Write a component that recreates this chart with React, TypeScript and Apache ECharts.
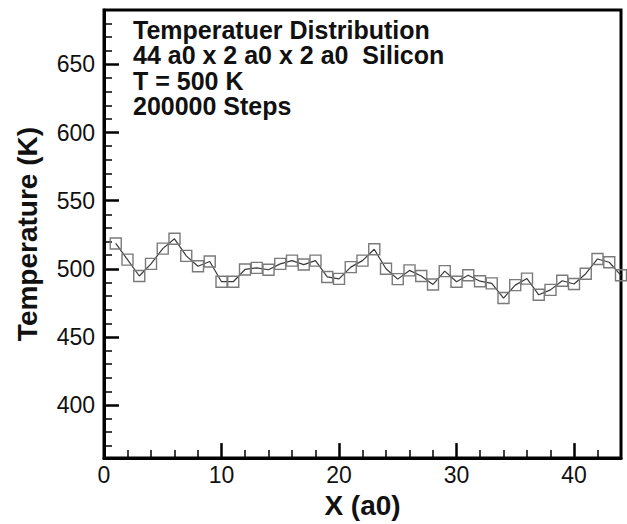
import React, { useEffect, useRef } from "react";
import * as echarts from "echarts";

const positions = [
  1, 2, 3, 4, 5, 6, 7, 8, 9, 10, 11, 12, 13, 14, 15, 16, 17, 18, 19, 20, 21, 22,
  23, 24, 25, 26, 27, 28, 29, 30, 31, 32, 33, 34, 35, 36, 37, 38, 39, 40, 41, 42, 43, 44,
];
const temperatures = [
  518.6, 506.7, 494.7, 503.6, 514.8, 522, 509.5, 501.9, 505.3, 490.5, 490.5, 499.5,
  500.7, 499.3, 503.6, 506, 503.1, 506, 494, 492.6, 501.2, 506, 514.3, 500, 492.4,
  498.8, 494.7, 488.5, 498.3, 490.5, 495.2, 490.9, 489.3, 478.5, 488, 492.8, 480.9,
  484.5, 491.2, 488.8, 496.4, 507.2, 504.8, 495.2,
];
const xMajorTicks = [0, 10, 20, 30, 40];
const xMinorTicks = [2, 4, 6, 8, 12, 14, 16, 18, 22, 24, 26, 28, 32, 34, 36, 38, 42];
const yMajorTicks = [400, 450, 500, 550, 600, 650];
const yMinorTicks = [
  370, 380, 390, 410, 420, 430, 440, 460, 470, 480, 490, 510, 520, 530, 540, 560,
  570, 580, 590, 610, 620, 630, 640, 660, 670, 680,
];
const annotationLines = [
  "Temperatuer Distribution",
  "44 a0 x 2 a0 x 2 a0  Silicon",
  "T = 500 K",
  "200000 Steps",
];

const FONT = "'Liberation Sans', Arial, Helvetica, sans-serif";

export default function App() {
  const ref = useRef<HTMLDivElement>(null);
  useEffect(() => {
    if (!ref.current) return;
    const chart = echarts.init(ref.current, null, { renderer: "svg" });
    const X_MIN = 0, X_MAX = 44, Y_MIN = 361, Y_MAX = 690;
    chart.setOption({
      animation: false,
      backgroundColor: "#fff",
      title: {
        text: annotationLines.join("\n"),
        left: 133,
        top: 17,
        padding: 0,
        textStyle: {
          fontFamily: FONT,
          fontSize: 25,
          fontWeight: "bold",
          lineHeight: 25.5,
          color: "#111",
        },
      },
      grid: {
        left: 104,
        top: 10,
        right: 6,
        bottom: 54,
        show: true,
        borderColor: "#000",
        borderWidth: 3,
        backgroundColor: "transparent",
      },
      xAxis: [
        {
          type: "value",
          position: "bottom",
          min: X_MIN,
          max: X_MAX,
          name: "X (a0)",
          nameLocation: "middle",
          nameGap: 22,
          nameTextStyle: { fontFamily: FONT, fontSize: 28, fontWeight: "bold", color: "#111" },
          axisLine: { show: true, lineStyle: { color: "#000", width: 3 } },
          axisTick: {
            show: true,
            inside: true,
            length: 15,
            customValues: xMajorTicks,
            lineStyle: { color: "#000", width: 2.5 },
          },
          axisLabel: {
            customValues: xMajorTicks,
            fontFamily: FONT,
            fontSize: 23,
            color: "#111",
            margin: 5,
          },
          splitLine: { show: false },
        },
        {
          type: "value",
          position: "bottom",
          min: X_MIN,
          max: X_MAX,
          axisLine: { show: false },
          axisTick: {
            show: true,
            inside: true,
            length: 8,
            customValues: xMinorTicks,
            lineStyle: { color: "#000", width: 1.5 },
          },
          axisLabel: { show: false },
          splitLine: { show: false },
        },
      ],
      yAxis: [
        {
          type: "value",
          position: "left",
          min: Y_MIN,
          max: Y_MAX,
          name: "Temperature (K)",
          nameLocation: "middle",
          nameGap: 63,
          nameRotate: 90,
          nameTextStyle: { fontFamily: FONT, fontSize: 28, fontWeight: "bold", color: "#111" },
          axisLine: { show: true, lineStyle: { color: "#000", width: 3 } },
          axisTick: {
            show: true,
            inside: true,
            length: 15,
            customValues: yMajorTicks,
            lineStyle: { color: "#000", width: 2.5 },
          },
          axisLabel: {
            customValues: yMajorTicks,
            fontFamily: FONT,
            fontSize: 23,
            color: "#111",
            margin: 9,
          },
          splitLine: { show: false },
        },
        {
          type: "value",
          position: "left",
          min: Y_MIN,
          max: Y_MAX,
          axisLine: { show: false },
          axisTick: {
            show: true,
            inside: true,
            length: 8,
            customValues: yMinorTicks,
            lineStyle: { color: "#000", width: 1.5 },
          },
          axisLabel: { show: false },
          splitLine: { show: false },
        },
      ],
      series: [
        {
          type: "line",
          xAxisIndex: 0,
          yAxisIndex: 0,
          data: positions.map((x, i) => [x, temperatures[i]]),
          symbol: "rect",
          symbolSize: 11,
          showAllSymbol: true,
          lineStyle: { color: "#3a3a3a", width: 1.2 },
          itemStyle: { color: "rgba(0,0,0,0)", borderColor: "#7a7a7a", borderWidth: 1.4 },
          emphasis: { disabled: true },
          z: 3,
        },
      ],
    });
    return () => chart.dispose();
  }, []);
  return (
    <div
      ref={ref}
      style={{ position: "fixed", left: 0, top: 0, width: 627, height: 524, background: "#fff" }}
    />
  );
}
